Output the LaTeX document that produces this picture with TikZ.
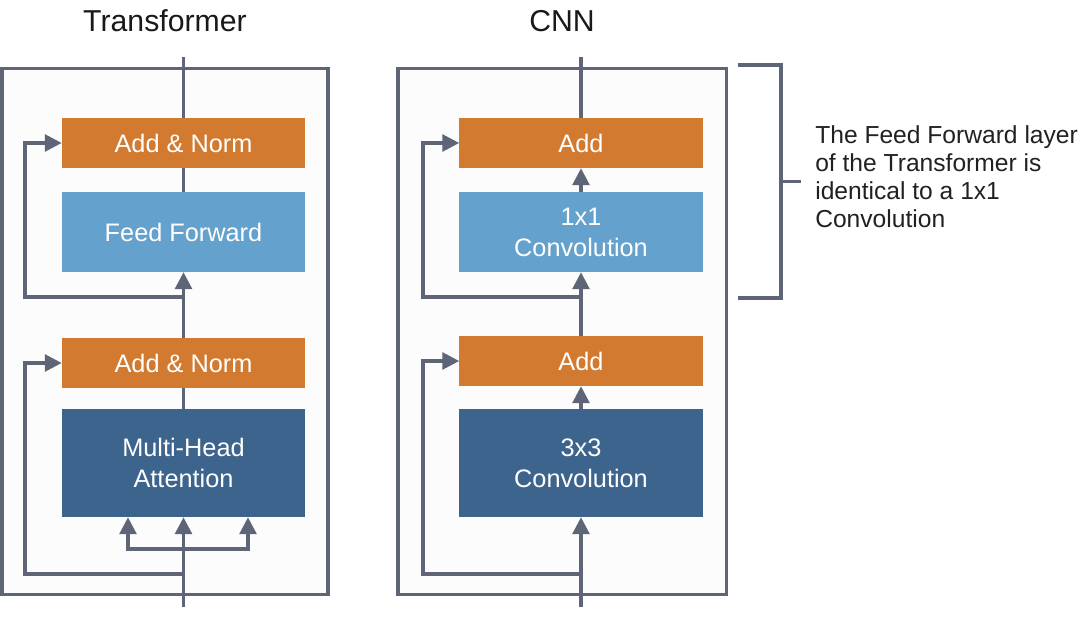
\documentclass[tikz,border=0pt]{standalone}
\usepackage{fontspec}
\setmainfont{Liberation Sans}
\usetikzlibrary{positioning,arrows.meta,calc}
\definecolor{addc}{HTML}{D27B30}
\definecolor{ffc}{HTML}{64A1CD}
\definecolor{attc}{HTML}{3D648C}
\definecolor{wire}{HTML}{5E6577}
\definecolor{panelc}{HTML}{FCFCFD}

\begin{document}
\begin{tikzpicture}[x=0.025cm,y=-0.025cm,
  blk/.style={minimum width=6.075cm,align=center,text=white,font=\fontsize{18}{22}\selectfont,inner sep=0pt},
  addblk/.style={blk,fill=addc,minimum height=1.25cm},
  ffblk/.style={blk,fill=ffc,minimum height=2cm},
  attblk/.style={blk,fill=attc,minimum height=2.7cm},
  panel/.style={draw=wire,line width=2.2pt,fill=panelc,minimum height=13.125cm},
  ttl/.style={font=\fontsize{21.5}{26}\selectfont,text=black!90,anchor=base},
  note/.style={font=\fontsize{17.5}{20}\selectfont,text=black!87,align=left,anchor=west,inner sep=0pt},
  ln/.style={draw=wire,line width=2.3pt},
  ar/.style={ln,-{Triangle[length=12pt,width=12pt]}}]
\useasboundingbox (0,0) rectangle (1080,617);
% panels
\node[panel,minimum width=8.15cm] (tpanel) at (165,331.5) {};
\node[panel,minimum width=8.2cm] (cpanel) at (562,331.5) {};
\node[ttl] (ttitle) at ($(tpanel.north)+(0,-36)$) {Transformer};
\node[ttl] (ctitle) at ($(cpanel.north)+(0,-36)$) {CNN};
% transformer
\node[attblk] (mha) at (183.5,463) {Multi-Head\\Attention};
\node[addblk] (tadd1) at (183.5,363) {Add \& Norm};
\node[ffblk] (ff) at (183.5,232) {Feed Forward};
\node[addblk] (tadd2) at (183.5,143) {Add \& Norm};
\coordinate (tin) at (183.5,607);
\coordinate (tout) at (183.5,57);
\coordinate (tj1) at (183.5,574);
\coordinate (tj2) at (183.5,297);
\coordinate (tsplit) at (183.5,549);
\draw[ar] (tin) -- (mha.south);
\draw[ar] (tsplit) -| ($(mha.south)+(-55.5,0)$);
\draw[ar] (tsplit) -| ($(mha.south)+(64.5,0)$);
\draw[ln] (mha.north) -- (tadd1.south);
\draw[ar] (tadd1.north) -- (ff.south);
\draw[ln] (ff.north) -- (tadd2.south);
\draw[ln] (tadd2.north) -- (tout);
\draw[ar] (tj1) -- ++(-158.5,0) |- (tadd1.west);
\draw[ar] (tj2) -- ++(-158.5,0) |- (tadd2.west);
% cnn
\node[attblk] (c3) at (581,463) {3x3\\Convolution};
\node[addblk] (cadd1) at (581,361) {Add};
\node[ffblk] (c1) at (581,232) {1x1\\Convolution};
\node[addblk] (cadd2) at (581,143) {Add};
\coordinate (cin) at (581,607);
\coordinate (cout) at (581,57);
\coordinate (cj1) at (581,574);
\coordinate (cj2) at (581,297);
\draw[ar] (cin) -- (c3.south);
\draw[ar] (c3.north) -- (cadd1.south);
\draw[ar] (cadd1.north) -- (c1.south);
\draw[ar] (c1.north) -- (cadd2.south);
\draw[ln] (cadd2.north) -- (cout);
\draw[ar] (cj1) -- ++(-158,0) |- (cadd1.west);
\draw[ar] (cj2) -- ++(-158,0) |- (cadd2.west);
% bracket and note
\coordinate (brtop) at (738,65);
\coordinate (brbot) at (738,298);
\draw[ln] (brtop) -- ++(43,0) |- (brbot);
\node[note] (note) at (815,177) {The Feed Forward layer\\of the Transformer is\\identical to a 1x1\\Convolution};
\draw[ln] ($(brtop)!0.5!(brbot)+(43,0)$) -- ++(20,0);
\end{tikzpicture}
\end{document}
